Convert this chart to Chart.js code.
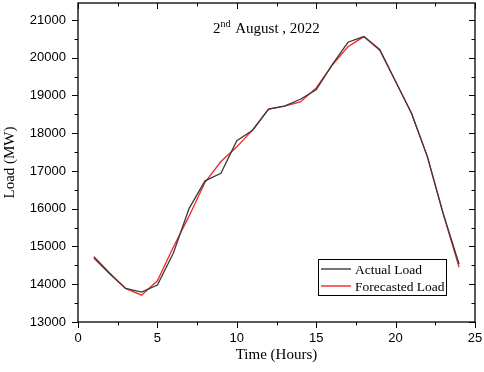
<!DOCTYPE html>
<html>
<head>
<meta charset="utf-8">
<script src="https://cdn.jsdelivr.net/npm/chart.js@4.4.0/dist/chart.umd.min.js"></script>
<style>
    html, body { margin: 0; padding: 0; background: #fff; }
    #wrap { width: 484px; height: 372px; }
</style>
</head>
<body>
<div id="wrap"><canvas id="loadChart"></canvas></div>
<script>
// Hourly load for 2nd August 2022 (MW)
const hours = [1, 2, 3, 4, 5, 6, 7, 8, 9, 10, 11, 12, 13, 14, 15, 16, 17, 18, 19, 20, 21, 22, 23, 24];
const actualLoad = [14730, 14290, 13890, 13790, 13980, 14820, 16010, 16740, 16940, 17800, 18080, 18640,
    18720, 18900, 19150, 19810, 20410, 20560, 20220, 19370, 18530, 17380, 15870, 14530];
const forecastLoad = [14690, 14270, 13890, 13710, 14090, 14980, 15810, 16700, 17250, 17640, 18090, 18640,
    18720, 18830, 19200, 19800, 20290, 20560, 20200, 19370, 18530, 17380, 15860, 14450];
const xTicks = [0, 5, 10, 15, 20, 25];
const yTicks = [13000, 14000, 15000, 16000, 17000, 18000, 19000, 20000, 21000];

const toPoints = (vals) => hours.map((h, i) => ({ x: h, y: vals[i] }));

// Frame, mirrored ticks, minor ticks, title text and legend box
const framePlugin = {
    id: 'frame',
    afterDraw(chart) {
        const ctx = chart.ctx;
        const area = chart.chartArea;
        const xs = chart.scales.x;
        const ys = chart.scales.y;
        ctx.save();
        ctx.strokeStyle = '#000';
        ctx.lineWidth = 1.3;
        ctx.strokeRect(area.left, area.top, area.right - area.left, area.bottom - area.top);

        ctx.lineWidth = 1;
        ctx.beginPath();
        for (let v = 0; v <= 25; v += 2.5) {
            const px = Math.round(xs.getPixelForValue(v)) + 0.5;
            const len = v % 5 === 0 ? 6 : 3.5;
            ctx.moveTo(px, area.bottom);
            ctx.lineTo(px, area.bottom + len);
            ctx.moveTo(px, area.top);
            ctx.lineTo(px, area.top + len);
        }
        for (let v = 13000; v <= 21400; v += 500) {
            const py = Math.round(ys.getPixelForValue(v)) + 0.5;
            const len = v % 1000 === 0 ? 6 : 3.5;
            ctx.moveTo(area.left, py);
            ctx.lineTo(area.left - len, py);
            ctx.moveTo(area.right, py);
            ctx.lineTo(area.right - len, py);
        }
        ctx.stroke();

        // title with superscript
        ctx.fillStyle = '#000';
        ctx.textBaseline = 'alphabetic';
        ctx.textAlign = 'left';
        let tx = 213;
        const ty = 33;
        ctx.font = '15px "Liberation Serif"';
        ctx.fillText('2', tx, ty);
        tx += ctx.measureText('2').width;
        ctx.font = '10px "Liberation Serif"';
        ctx.fillText('nd', tx, ty - 6);
        tx += ctx.measureText('nd').width + 1;
        ctx.font = '15px "Liberation Serif"';
        ctx.fillText(' August , 2022', tx, ty);

        // legend
        const lx = 318, ly = 259, lw = 128, lh = 36;
        ctx.lineWidth = 1;
        ctx.strokeStyle = '#000';
        ctx.strokeRect(lx + 0.5, ly + 0.5, lw, lh);
        ctx.font = '13.5px "Liberation Serif"';
        ctx.textBaseline = 'middle';
        chart.data.datasets.forEach((ds, i) => {
            const y = ly + 10 + i * 17;
            ctx.strokeStyle = ds.borderColor;
            ctx.lineWidth = 1.4;
            ctx.beginPath();
            ctx.moveTo(lx + 3, y);
            ctx.lineTo(lx + 33, y);
            ctx.stroke();
            ctx.fillText(ds.label, lx + 37, y + 1);
        });
        ctx.restore();
    }
};

const ctx = document.getElementById('loadChart').getContext('2d');
new Chart(ctx, {
    type: 'line',
    data: {
        datasets: [{
            label: 'Actual Load',
            data: toPoints(actualLoad),
            borderColor: '#3a3a3a',
            borderWidth: 1.3,
            pointRadius: 0,
            tension: 0
        }, {
            label: 'Forecasted Load',
            data: toPoints(forecastLoad),
            borderColor: '#f32626',
            borderWidth: 1.3,
            pointRadius: 0,
            tension: 0
        }]
    },
    options: {
        responsive: true,
        maintainAspectRatio: false,
        animation: false,
        layout: { padding: { top: 3, right: 9, left: 0, bottom: 0 } },
        plugins: {
            legend: { display: false },
            tooltip: { enabled: false }
        },
        scales: {
            x: {
                type: 'linear',
                min: 0,
                max: 25,
                afterBuildTicks: (scale) => { scale.ticks = xTicks.map(v => ({ value: v })); },
                afterFit: (scale) => {
                    scale.height = 50;
                    scale.paddingLeft = 0;
                    scale.paddingRight = 0;
                },
                grid: { display: false, drawTicks: false },
                border: { display: false },
                ticks: { color: '#000', padding: 9, maxRotation: 0, font: { family: 'Liberation Sans', size: 13 } },
                title: {
                    display: true,
                    text: 'Time (Hours)',
                    color: '#000',
                    padding: { top: 0, bottom: 8 },
                    font: { family: 'Liberation Serif', size: 15 }
                }
            },
            y: {
                min: 13000,
                max: 21450,
                afterBuildTicks: (scale) => { scale.ticks = yTicks.map(v => ({ value: v })); },
                afterFit: (scale) => {
                    scale.width = 78;
                    scale.paddingTop = 0;
                    scale.paddingBottom = 0;
                },
                grid: { display: false, drawTicks: false },
                border: { display: false },
                ticks: {
                    color: '#000',
                    padding: 12,
                    font: { family: 'Liberation Sans', size: 13 },
                    callback: (v) => String(v)
                },
                title: {
                    display: true,
                    text: 'Load (MW)',
                    color: '#000',
                    padding: { top: 1, bottom: 0 },
                    font: { family: 'Liberation Serif', size: 15 }
                }
            }
        }
    },
    plugins: [framePlugin]
});
</script>
</body>
</html>
